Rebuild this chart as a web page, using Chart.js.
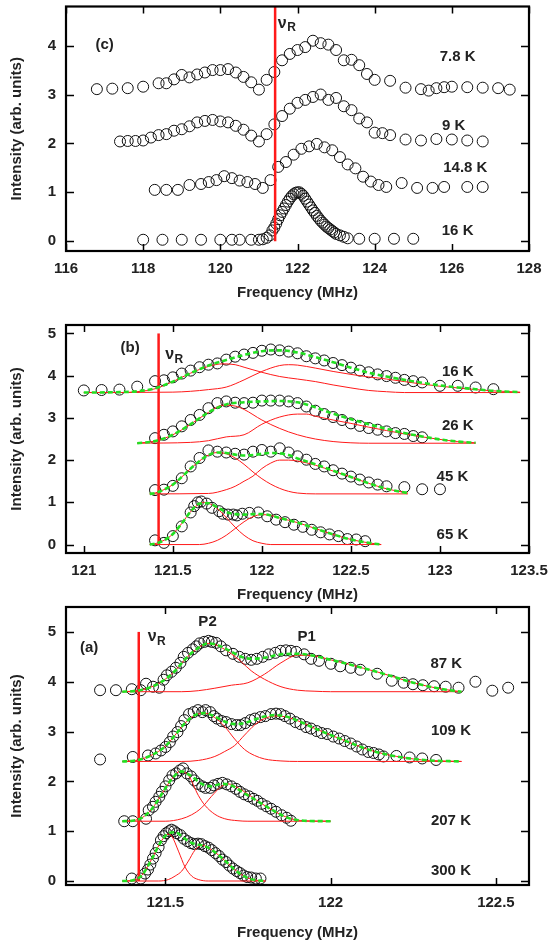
<!DOCTYPE html>
<html>
<head>
<meta charset="utf-8">
<script src="https://cdn.jsdelivr.net/npm/chart.js@4/dist/chart.umd.min.js"></script>
<style>
  body { margin: 0; background: #fff; }
  #wrap { position: relative; width: 554px; height: 943px; }
  canvas { position: absolute; left: 0; }
</style>
</head>
<body>
<div id="wrap">
  <canvas id="panelC" width="554" height="310" style="top:0px"></canvas>
  <canvas id="panelB" width="554" height="300" style="top:305px"></canvas>
  <canvas id="panelA" width="554" height="343" style="top:600px"></canvas>
</div>
<script>
// resonance frequency nu_R (MHz)
const nuR = 121.42;

// ---------- panel (c): spectra at low temperature ----------
const cTicksX = [116, 118, 120, 122, 124, 126, 128];
const cTicksY = [0, 1, 2, 3, 4];
const c7_8K = [[116.8,3.11],[117.2,3.12],[117.6,3.13],[118.0,3.16],[118.4,3.23],[118.6,3.23],[118.8,3.31],[119.0,3.4],[119.2,3.35],[119.4,3.41],[119.6,3.45],[119.8,3.5],[120.0,3.5],[120.2,3.52],[120.4,3.45],[120.6,3.36],[120.8,3.25],[121.0,3.1],[121.2,3.3],[121.4,3.46],[121.6,3.7],[121.8,3.83],[122.0,3.91],[122.2,3.97],[122.4,4.1],[122.6,4.05],[122.8,4.02],[123.0,3.91],[123.2,3.7],[123.4,3.71],[123.6,3.6],[123.8,3.42],[124.0,3.3],[124.4,3.28],[124.8,3.14],[125.2,3.11],[125.4,3.08],[125.6,3.13],[125.8,3.15],[126.0,3.16],[126.4,3.15],[126.8,3.14],[127.2,3.13],[127.5,3.1]];
const c9K = [[117.4,2.04],[117.6,2.05],[117.8,2.05],[118.0,2.06],[118.2,2.12],[118.4,2.17],[118.6,2.19],[118.8,2.26],[119.0,2.29],[119.2,2.35],[119.4,2.43],[119.6,2.46],[119.8,2.48],[120.0,2.45],[120.2,2.43],[120.4,2.36],[120.6,2.28],[120.8,2.16],[121.0,2.04],[121.2,2.19],[121.4,2.39],[121.6,2.56],[121.8,2.71],[122.0,2.83],[122.2,2.89],[122.4,2.95],[122.6,3.0],[122.8,2.89],[123.0,2.93],[123.2,2.76],[123.4,2.68],[123.6,2.51],[123.8,2.43],[124.0,2.22],[124.2,2.21],[124.4,2.17],[124.8,2.08],[125.2,2.06],[125.6,2.09],[126.0,2.08],[126.4,2.06],[126.8,2.04]];
const c14_8K = [[118.3,1.05],[118.6,1.05],[118.9,1.05],[119.2,1.15],[119.5,1.17],[119.7,1.21],[119.9,1.25],[120.1,1.33],[120.3,1.29],[120.5,1.24],[120.7,1.21],[120.9,1.17],[121.1,1.09],[121.3,1.25],[121.5,1.52],[121.7,1.62],[121.9,1.77],[122.1,1.89],[122.3,1.94],[122.5,1.99],[122.7,1.92],[122.9,1.86],[123.1,1.72],[123.3,1.57],[123.5,1.49],[123.7,1.32],[123.9,1.22],[124.1,1.15],[124.3,1.11],[124.7,1.19],[125.1,1.09],[125.5,1.09],[125.8,1.11],[126.4,1.11],[126.8,1.11]];
const c16K = [[118.0,0.03],[118.5,0.03],[119.0,0.03],[119.5,0.03],[120.0,0.03],[120.3,0.03],[120.5,0.03],[120.8,0.03],[121.0,0.03],[121.1,0.04],[121.2,0.07],[121.28,0.12],[121.35,0.22],[121.4,0.28],[121.45,0.36],[121.5,0.45],[121.55,0.53],[121.6,0.6],[121.65,0.67],[121.7,0.74],[121.75,0.81],[121.8,0.87],[121.85,0.92],[121.9,0.96],[121.95,0.99],[122.0,1.0],[122.05,1.0],[122.1,0.97],[122.15,0.93],[122.2,0.87],[122.25,0.81],[122.3,0.75],[122.35,0.69],[122.4,0.63],[122.45,0.58],[122.5,0.52],[122.55,0.47],[122.6,0.42],[122.65,0.38],[122.7,0.34],[122.75,0.3],[122.8,0.27],[122.85,0.24],[122.9,0.21],[122.95,0.18],[123.0,0.15],[123.1,0.12],[123.2,0.09],[123.3,0.06],[123.6,0.05],[124.0,0.05],[124.5,0.05],[125.0,0.05]];

// ---------- panel (b): two-line fits 16-65 K ----------
const bTicksX = [121, 121.5, 122, 122.5, 123, 123.5];
const bTicksY = [0, 1, 2, 3, 4, 5];
const b16K = [[121.0,3.65],[121.1,3.66],[121.2,3.67],[121.3,3.74],[121.4,3.87],[121.45,3.89],[121.5,3.96],[121.55,4.05],[121.6,4.12],[121.65,4.2],[121.7,4.26],[121.75,4.29],[121.8,4.38],[121.85,4.45],[121.9,4.5],[121.95,4.54],[122.0,4.59],[122.05,4.62],[122.1,4.6],[122.15,4.57],[122.2,4.53],[122.25,4.46],[122.3,4.41],[122.35,4.36],[122.4,4.3],[122.45,4.25],[122.5,4.19],[122.55,4.12],[122.6,4.08],[122.65,4.03],[122.7,3.99],[122.75,3.95],[122.8,3.9],[122.85,3.87],[122.9,3.84],[123.0,3.76],[123.1,3.76],[123.2,3.72],[123.3,3.68]];
const b16Fit = [[121.0,3.6],[121.2,3.61],[121.3,3.63],[121.4,3.7],[121.5,3.86],[121.6,4.06],[121.7,4.24],[121.8,4.37],[121.9,4.49],[122.0,4.58],[122.1,4.6],[122.2,4.55],[122.3,4.44],[122.4,4.32],[122.5,4.19],[122.6,4.07],[122.7,3.98],[122.8,3.9],[122.9,3.83],[123.0,3.77],[123.1,3.72],[123.2,3.68],[123.3,3.64],[123.45,3.61]];
const b16P2 = [[121.0,3.6],[121.2,3.6],[121.3,3.62],[121.4,3.69],[121.5,3.86],[121.6,4.06],[121.7,4.22],[121.78,4.28],[121.85,4.26],[121.9,4.2],[122.0,4.08],[122.1,3.98],[122.2,3.92],[122.3,3.86],[122.4,3.78],[122.5,3.71],[122.6,3.65],[122.7,3.62],[122.8,3.6],[123.45,3.6]];
const b16P1 = [[121.0,3.6],[121.5,3.61],[121.6,3.63],[121.7,3.67],[121.8,3.73],[121.9,3.9],[122.0,4.1],[122.1,4.24],[122.15,4.26],[122.2,4.25],[122.3,4.18],[122.4,4.1],[122.5,4.03],[122.6,3.97],[122.7,3.92],[122.8,3.86],[122.9,3.8],[123.0,3.75],[123.1,3.71],[123.2,3.67],[123.3,3.64],[123.45,3.61]];
const b26K = [[121.4,2.52],[121.45,2.6],[121.5,2.68],[121.55,2.8],[121.6,2.95],[121.65,3.07],[121.7,3.23],[121.75,3.35],[121.8,3.39],[121.85,3.36],[121.9,3.35],[121.95,3.36],[122.0,3.41],[122.05,3.41],[122.1,3.41],[122.15,3.39],[122.2,3.35],[122.25,3.27],[122.3,3.17],[122.35,3.09],[122.4,3.02],[122.45,2.95],[122.5,2.87],[122.55,2.81],[122.6,2.76],[122.65,2.72],[122.7,2.68],[122.75,2.64],[122.8,2.62],[122.85,2.57],[122.9,2.54]];
const b26Fit = [[121.3,2.4],[121.4,2.45],[121.5,2.6],[121.6,2.85],[121.7,3.13],[121.8,3.32],[121.9,3.37],[122.0,3.39],[122.1,3.4],[122.2,3.37],[122.3,3.25],[122.4,3.1],[122.5,2.97],[122.6,2.85],[122.7,2.74],[122.8,2.64],[122.9,2.56],[123.0,2.49],[123.1,2.44],[123.2,2.41]];
const b26P2 = [[121.3,2.4],[121.4,2.45],[121.5,2.6],[121.6,2.85],[121.7,3.13],[121.78,3.3],[121.85,3.28],[121.9,3.2],[122.0,2.95],[122.1,2.75],[122.2,2.6],[122.3,2.5],[122.4,2.44],[122.5,2.41],[122.6,2.4],[123.2,2.4]];
const b26P1 = [[121.3,2.4],[121.6,2.42],[121.7,2.46],[121.8,2.55],[121.9,2.6],[122.0,2.85],[122.1,3.02],[122.2,3.09],[122.25,3.09],[122.3,3.04],[122.4,2.95],[122.5,2.87],[122.6,2.78],[122.7,2.7],[122.8,2.62],[122.9,2.55],[123.0,2.49],[123.1,2.44],[123.2,2.41]];
const b45K = [[121.4,1.29],[121.45,1.3],[121.5,1.39],[121.55,1.57],[121.6,1.85],[121.65,2.05],[121.7,2.23],[121.75,2.2],[121.8,2.18],[121.85,2.15],[121.9,2.13],[121.95,2.2],[122.0,2.24],[122.05,2.2],[122.1,2.28],[122.15,2.18],[122.2,2.09],[122.25,2.01],[122.3,1.91],[122.35,1.85],[122.4,1.76],[122.45,1.68],[122.5,1.61],[122.55,1.54],[122.6,1.47],[122.65,1.42],[122.7,1.38],[122.8,1.36],[122.9,1.31],[123.0,1.31]];
const b45Fit = [[121.37,1.2],[121.4,1.22],[121.45,1.3],[121.5,1.42],[121.55,1.6],[121.6,1.8],[121.65,1.98],[121.7,2.12],[121.75,2.18],[121.8,2.17],[121.85,2.13],[121.9,2.11],[121.95,2.12],[122.0,2.15],[122.05,2.17],[122.1,2.16],[122.15,2.12],[122.2,2.04],[122.3,1.9],[122.4,1.75],[122.5,1.6],[122.6,1.45],[122.7,1.32],[122.82,1.22]];
const b45P2 = [[121.37,1.2],[121.4,1.22],[121.45,1.3],[121.5,1.42],[121.55,1.6],[121.6,1.8],[121.65,1.98],[121.7,2.12],[121.75,2.18],[121.8,2.15],[121.85,2.05],[121.9,1.9],[121.95,1.72],[122.0,1.56],[122.05,1.43],[122.1,1.33],[122.15,1.26],[122.2,1.22],[122.3,1.2],[122.82,1.2]];
const b45P1 = [[121.37,1.2],[121.7,1.21],[121.8,1.3],[121.85,1.38],[121.9,1.5],[121.95,1.62],[122.0,1.8],[122.05,1.93],[122.1,2.0],[122.15,2.0],[122.2,1.98],[122.3,1.88],[122.4,1.74],[122.5,1.6],[122.6,1.45],[122.7,1.32],[122.82,1.22]];
const b65K = [[121.4,0.1],[121.45,0.04],[121.5,0.2],[121.55,0.43],[121.6,0.76],[121.62,0.91],[121.64,1.0],[121.66,1.02],[121.69,0.97],[121.72,0.87],[121.76,0.79],[121.78,0.73],[121.81,0.71],[121.84,0.71],[121.86,0.69],[121.89,0.73],[121.93,0.75],[121.98,0.76],[122.03,0.67],[122.08,0.59],[122.13,0.53],[122.18,0.47],[122.23,0.42],[122.28,0.35],[122.33,0.29],[122.38,0.24],[122.43,0.2],[122.48,0.13],[122.53,0.12],[122.58,0.08]];
const b65Fit = [[121.37,0],[121.4,0.02],[121.45,0.1],[121.5,0.25],[121.55,0.5],[121.6,0.78],[121.65,0.97],[121.7,0.98],[121.75,0.88],[121.8,0.77],[121.85,0.72],[121.9,0.71],[121.95,0.72],[122.0,0.72],[122.05,0.69],[122.1,0.63],[122.2,0.52],[122.3,0.38],[122.4,0.24],[122.5,0.12],[122.6,0.04],[122.67,0]];
const b65P2 = [[121.37,0],[121.4,0.02],[121.45,0.1],[121.5,0.25],[121.55,0.5],[121.6,0.78],[121.65,0.97],[121.68,1.0],[121.7,0.98],[121.75,0.85],[121.8,0.64],[121.85,0.41],[121.9,0.22],[121.95,0.09],[122.0,0.03],[122.05,0],[122.67,0]];
const b65P1 = [[121.37,0],[121.65,0],[121.7,0.03],[121.75,0.1],[121.8,0.22],[121.85,0.38],[121.9,0.54],[121.95,0.66],[122.0,0.71],[122.05,0.69],[122.1,0.63],[122.2,0.52],[122.3,0.38],[122.4,0.24],[122.5,0.12],[122.6,0.04],[122.67,0]];

// ---------- panel (a): two-line fits 87-300 K ----------
const aTicksX = [121.5, 122, 122.5];
const aTicksY = [0, 1, 2, 3, 4, 5];
const a87K = [[121.303,3.83],[121.351,3.83],[121.399,3.85],[121.426,3.83],[121.442,3.96],[121.463,3.9],[121.482,3.88],[121.495,4.04],[121.505,4.13],[121.519,4.2],[121.532,4.28],[121.546,4.38],[121.556,4.5],[121.569,4.58],[121.583,4.65],[121.594,4.71],[121.604,4.77],[121.618,4.8],[121.631,4.82],[121.641,4.8],[121.654,4.78],[121.668,4.71],[121.684,4.63],[121.705,4.56],[121.724,4.5],[121.742,4.46],[121.76,4.44],[121.777,4.46],[121.795,4.5],[121.813,4.55],[121.833,4.58],[121.849,4.62],[121.865,4.63],[121.88,4.62],[121.896,4.6],[121.92,4.55],[121.941,4.46],[121.965,4.42],[122.001,4.36],[122.029,4.31],[122.061,4.28],[122.09,4.24],[122.141,4.16],[122.185,4.02],[122.221,3.98],[122.249,3.95],[122.279,3.93],[122.313,3.91],[122.348,3.9],[122.387,3.88],[122.438,4.0],[122.489,3.82],[122.537,3.88]];
const a87Fit = [[121.37,3.8],[121.4,3.81],[121.43,3.84],[121.46,3.9],[121.5,4.05],[121.53,4.22],[121.56,4.45],[121.6,4.68],[121.63,4.77],[121.66,4.73],[121.7,4.6],[121.73,4.5],[121.76,4.46],[121.8,4.48],[121.85,4.55],[121.9,4.56],[121.95,4.52],[122.0,4.44],[122.05,4.36],[122.1,4.27],[122.15,4.18],[122.2,4.08],[122.25,3.98],[122.3,3.9],[122.35,3.84],[122.396,3.8]];
const a87P2 = [[121.37,3.8],[121.4,3.81],[121.43,3.84],[121.46,3.9],[121.5,4.05],[121.53,4.22],[121.56,4.45],[121.6,4.68],[121.63,4.77],[121.66,4.72],[121.7,4.56],[121.73,4.4],[121.76,4.22],[121.8,4.05],[121.85,3.9],[121.9,3.83],[121.95,3.81],[122.0,3.8],[122.396,3.8]];
const a87P1 = [[121.37,3.8],[121.55,3.8],[121.6,3.82],[121.65,3.87],[121.7,3.93],[121.75,3.98],[121.8,4.15],[121.85,4.38],[121.9,4.53],[121.95,4.52],[122.0,4.44],[122.05,4.36],[122.1,4.27],[122.15,4.18],[122.2,4.08],[122.25,3.98],[122.3,3.9],[122.35,3.84],[122.396,3.8]];
const a109K = [[121.303,2.44],[121.402,2.49],[121.448,2.52],[121.471,2.56],[121.487,2.62],[121.501,2.69],[121.514,2.79],[121.524,2.9],[121.537,2.99],[121.548,3.11],[121.558,3.23],[121.572,3.35],[121.586,3.39],[121.599,3.43],[121.612,3.39],[121.622,3.43],[121.636,3.39],[121.647,3.31],[121.657,3.26],[121.671,3.21],[121.684,3.19],[121.7,3.15],[121.716,3.13],[121.728,3.13],[121.742,3.17],[121.758,3.23],[121.771,3.26],[121.788,3.29],[121.803,3.31],[121.82,3.35],[121.835,3.36],[121.849,3.35],[121.862,3.31],[121.877,3.26],[121.894,3.19],[121.909,3.15],[121.926,3.09],[121.941,3.06],[121.958,3.01],[121.973,2.97],[121.99,2.95],[122.008,2.9],[122.026,2.86],[122.043,2.81],[122.061,2.76],[122.079,2.7],[122.096,2.64],[122.114,2.59],[122.13,2.57],[122.146,2.54],[122.16,2.5],[122.199,2.51],[122.239,2.48],[122.277,2.46],[122.319,2.43]];
const a109Fit = [[121.37,2.4],[121.4,2.41],[121.43,2.45],[121.46,2.53],[121.5,2.7],[121.53,2.93],[121.56,3.17],[121.59,3.33],[121.62,3.37],[121.65,3.3],[121.68,3.2],[121.71,3.15],[121.74,3.17],[121.77,3.24],[121.8,3.3],[121.83,3.33],[121.86,3.31],[121.9,3.22],[121.95,3.07],[122.0,2.93],[122.05,2.8],[122.1,2.67],[122.15,2.57],[122.2,2.5],[122.25,2.45],[122.3,2.42],[122.396,2.4]];
const a109P2 = [[121.37,2.4],[121.4,2.41],[121.43,2.45],[121.46,2.53],[121.5,2.7],[121.53,2.93],[121.56,3.17],[121.59,3.33],[121.62,3.37],[121.65,3.28],[121.68,3.1],[121.71,2.85],[121.74,2.64],[121.77,2.52],[121.8,2.45],[121.85,2.41],[121.9,2.4],[122.396,2.4]];
const a109P1 = [[121.37,2.4],[121.55,2.4],[121.6,2.42],[121.65,2.5],[121.68,2.6],[121.71,2.72],[121.74,2.93],[121.77,3.13],[121.8,3.26],[121.83,3.31],[121.86,3.3],[121.9,3.22],[121.95,3.07],[122.0,2.93],[122.05,2.8],[122.1,2.67],[122.15,2.57],[122.2,2.5],[122.25,2.45],[122.3,2.42],[122.396,2.4]];
const a207K = [[121.376,1.2],[121.402,1.2],[121.442,1.25],[121.45,1.42],[121.463,1.49],[121.471,1.59],[121.482,1.69],[121.49,1.79],[121.501,1.9],[121.512,2.02],[121.522,2.12],[121.533,2.16],[121.544,2.22],[121.554,2.26],[121.565,2.16],[121.578,2.1],[121.588,2.02],[121.599,1.95],[121.612,1.9],[121.622,1.87],[121.636,1.87],[121.647,1.92],[121.66,1.95],[121.673,1.97],[121.686,1.94],[121.7,1.9],[121.714,1.85],[121.726,1.79],[121.739,1.74],[121.753,1.7],[121.767,1.65],[121.779,1.61],[121.792,1.55],[121.806,1.5],[121.82,1.45],[121.835,1.39],[121.852,1.32],[121.867,1.27],[121.88,1.21]];
const a207Fit = [[121.37,1.2],[121.4,1.21],[121.43,1.27],[121.46,1.45],[121.49,1.75],[121.52,2.05],[121.55,2.2],[121.58,2.1],[121.61,1.95],[121.64,1.9],[121.67,1.95],[121.7,1.92],[121.73,1.8],[121.76,1.68],[121.79,1.56],[121.82,1.44],[121.85,1.33],[121.88,1.25],[121.92,1.21],[122.0,1.2]];
const a207P2 = [[121.37,1.2],[121.4,1.21],[121.43,1.27],[121.46,1.45],[121.49,1.75],[121.52,2.05],[121.545,2.2],[121.57,2.12],[121.6,1.72],[121.62,1.52],[121.65,1.34],[121.68,1.25],[121.72,1.21],[121.75,1.2],[122.0,1.2]];
const a207P1 = [[121.37,1.2],[121.5,1.2],[121.55,1.25],[121.58,1.33],[121.61,1.47],[121.64,1.7],[121.67,1.9],[121.69,1.95],[121.72,1.87],[121.76,1.7],[121.79,1.56],[121.82,1.44],[121.85,1.33],[121.88,1.25],[121.92,1.21],[122.0,1.2]];
const a300K = [[121.399,0.05],[121.426,0.05],[121.439,0.15],[121.448,0.23],[121.455,0.33],[121.463,0.45],[121.471,0.56],[121.48,0.68],[121.487,0.82],[121.495,0.9],[121.503,0.96],[121.512,1.0],[121.519,1.03],[121.527,1.0],[121.535,0.96],[121.546,0.92],[121.556,0.85],[121.567,0.8],[121.578,0.76],[121.588,0.74],[121.599,0.75],[121.609,0.74],[121.62,0.7],[121.631,0.67],[121.641,0.62],[121.652,0.56],[121.663,0.5],[121.673,0.43],[121.684,0.38],[121.694,0.31],[121.705,0.25],[121.716,0.2],[121.726,0.16],[121.737,0.11],[121.748,0.08],[121.76,0.07],[121.774,0.05],[121.788,0.05]];
const a300Fit = [[121.37,0],[121.4,0.01],[121.43,0.12],[121.46,0.45],[121.49,0.82],[121.51,0.96],[121.53,0.98],[121.55,0.9],[121.57,0.8],[121.59,0.74],[121.61,0.72],[121.63,0.67],[121.65,0.58],[121.67,0.47],[121.69,0.35],[121.71,0.23],[121.73,0.13],[121.75,0.06],[121.77,0.02],[121.803,0]];
const a300P2 = [[121.37,0],[121.4,0.01],[121.43,0.12],[121.46,0.45],[121.49,0.82],[121.51,0.94],[121.52,0.9],[121.54,0.6],[121.56,0.28],[121.58,0.1],[121.6,0.03],[121.63,0],[121.803,0]];
const a300P1 = [[121.37,0],[121.48,0],[121.51,0.03],[121.53,0.1],[121.55,0.2],[121.57,0.4],[121.59,0.62],[121.61,0.72],[121.63,0.67],[121.65,0.58],[121.67,0.47],[121.69,0.35],[121.71,0.23],[121.73,0.13],[121.75,0.06],[121.77,0.02],[121.803,0]];

const RED = '#ff1a1a';
const GREEN = '#22e022';
const INK = '#222';
const FONT = '"Liberation Sans", Arial, Helvetica, sans-serif';

const toXY = arr => arr.map(p => ({x: p[0], y: p[1]}));

function lineSet(arr, color, width, dash, order) {
    return {
        data: toXY(arr), showLine: true, borderColor: color, borderWidth: width,
        borderDash: dash, pointRadius: 0, cubicInterpolationMode: 'monotone',
        fill: false, order: order
    };
}

// frame, inward ticks and text labels
const decorPlugin = {
    id: 'decor',
    afterDraw(chart, args, opts) {
        const {ctx, chartArea: a, scales: {x, y}} = chart;
        ctx.save();
        ctx.strokeStyle = '#000';
        ctx.lineWidth = 1.5;
        ctx.beginPath();
        x.ticks.forEach(t => {
            const px = Math.round(x.getPixelForValue(t.value)) + 0.5;
            ctx.moveTo(px, a.bottom); ctx.lineTo(px, a.bottom - 7);
            ctx.moveTo(px, a.top); ctx.lineTo(px, a.top + 7);
        });
        y.ticks.forEach(t => {
            const py = Math.round(y.getPixelForValue(t.value)) + 0.5;
            ctx.moveTo(a.left, py); ctx.lineTo(a.left + 8, py);
            ctx.moveTo(a.right, py); ctx.lineTo(a.right - 8, py);
        });
        ctx.stroke();
        ctx.lineWidth = 2.2;
        ctx.strokeRect(a.left, a.top, a.right - a.left, a.bottom - a.top);

        ctx.fillStyle = INK;
        ctx.textBaseline = 'middle';
        opts.labels.forEach(l => {
            const px = x.getPixelForValue(l.x), py = y.getPixelForValue(l.y);
            if (l.nu) {
                ctx.textAlign = 'left';
                ctx.font = 'bold 16px ' + FONT;
                ctx.fillText('ν', px, py);
                const w = ctx.measureText('ν').width;
                ctx.font = 'bold 12px ' + FONT;
                ctx.fillText('R', px + w + 0.5, py + 5);
            } else {
                ctx.textAlign = 'center';
                ctx.font = 'bold 15px ' + FONT;
                ctx.fillText(l.text, px, py);
            }
        });
        ctx.restore();
    }
};

function makePanel(id, p) {
    const datasets = [];
    p.fits.forEach(s => datasets.push(lineSet(s, GREEN, 2.6, [5, 3], 0)));
    p.parts.forEach(s => datasets.push(lineSet(s, RED, 1, [], 1)));
    datasets.push(lineSet(p.marker, RED, 2.5, [], 2));
    p.circles.forEach(s => datasets.push({
        data: toXY(s), showLine: false, pointRadius: 5.5, pointHoverRadius: 5.5,
        pointBorderColor: '#111', pointBackgroundColor: 'rgba(0,0,0,0)',
        pointBorderWidth: 1, order: 3
    }));
    const tickFont = {family: FONT, size: 15, weight: 'bold'};
    new Chart(document.getElementById(id), {
        type: 'scatter',
        data: {datasets: datasets},
        plugins: [decorPlugin],
        options: {
            responsive: false,
            animation: false,
            devicePixelRatio: 1,
            layout: {padding: {left: 0, right: 25, top: p.padTop, bottom: 0}},
            plugins: {
                legend: {display: false},
                tooltip: {enabled: false},
                decor: {labels: p.labels}
            },
            scales: {
                x: {
                    type: 'linear', min: p.xMin, max: p.xMax,
                    grid: {display: false, drawTicks: false},
                    border: {display: false},
                    afterBuildTicks: s => { s.ticks = p.xTicks.map(v => ({value: v})); },
                    afterFit: s => { s.height = p.xHeight; s.paddingLeft = 0; s.paddingRight = 0; },
                    ticks: {font: tickFont, color: INK, padding: 9, maxRotation: 0, autoSkip: false,
                            callback: v => String(v)},
                    title: {display: true, text: 'Frequency (MHz)', color: INK, font: tickFont,
                            padding: {top: 0, bottom: p.titleGap}}
                },
                y: {
                    type: 'linear', min: p.yMin, max: p.yMax,
                    grid: {display: false, drawTicks: false},
                    border: {display: false},
                    afterBuildTicks: s => { s.ticks = p.yTicks.map(v => ({value: v})); },
                    afterFit: s => { s.width = 66; s.paddingTop = 0; s.paddingBottom = 0; },
                    ticks: {font: tickFont, color: INK, padding: 10, autoSkip: false,
                            callback: v => String(v)},
                    title: {display: true, text: 'Intensity (arb. units)', color: INK, font: tickFont,
                            padding: {top: 8, bottom: 0}}
                }
            }
        }
    });
}

makePanel('panelC', {
    xMin: 116, xMax: 128, yMin: -0.2, yMax: 4.8, xTicks: cTicksX, yTicks: cTicksY,
    padTop: 3, xHeight: 59, titleGap: 8,
    circles: [c7_8K, c9K, c14_8K, c16K], fits: [], parts: [],
    marker: [[nuR, 0], [nuR, 4.8]],
    labels: [
        {text: '(c)', x: 117.0, y: 4.02},
        {nu: true, x: 121.49, y: 4.46},
        {text: '7.8 K', x: 126.15, y: 3.77},
        {text: '9 K', x: 126.05, y: 2.35},
        {text: '14.8 K', x: 126.35, y: 1.49},
        {text: '16 K', x: 126.15, y: 0.22}
    ]
});

makePanel('panelB', {
    xMin: 120.9, xMax: 123.5, yMin: -0.2, yMax: 5.2, xTicks: bTicksX, yTicks: bTicksY,
    padTop: 20, xHeight: 52, titleGap: 1,
    circles: [b16K, b26K, b45K, b65K],
    fits: [b16Fit, b26Fit, b45Fit, b65Fit],
    parts: [b16P2, b16P1, b26P2, b26P1, b45P2, b45P1, b65P2, b65P1],
    marker: [[nuR, 0], [nuR, 5]],
    labels: [
        {text: '(b)', x: 121.26, y: 4.66},
        {nu: true, x: 121.457, y: 4.5},
        {text: '16 K', x: 123.1, y: 4.09},
        {text: '26 K', x: 123.1, y: 2.81},
        {text: '45 K', x: 123.07, y: 1.61},
        {text: '65 K', x: 123.07, y: 0.24}
    ]
});

makePanel('panelA', {
    xMin: 121.2, xMax: 122.6, yMin: -0.08, yMax: 5.5, xTicks: aTicksX, yTicks: aTicksY,
    padTop: 7, xHeight: 58, titleGap: 1,
    circles: [a87K, a109K, a207K, a300K],
    fits: [a87Fit, a109Fit, a207Fit, a300Fit],
    parts: [a87P2, a87P1, a109P2, a109P1, a207P2, a207P1, a300P2, a300P1],
    marker: [[nuR, 0], [nuR, 5]],
    labels: [
        {text: '(a)', x: 121.27, y: 4.68},
        {nu: true, x: 121.447, y: 4.9},
        {text: 'P2', x: 121.628, y: 5.2},
        {text: 'P1', x: 121.928, y: 4.9},
        {text: '87 K', x: 122.35, y: 4.36},
        {text: '109 K', x: 122.364, y: 3.01},
        {text: '207 K', x: 122.364, y: 1.2},
        {text: '300 K', x: 122.364, y: 0.2}
    ]
});
</script>
</body>
</html>
